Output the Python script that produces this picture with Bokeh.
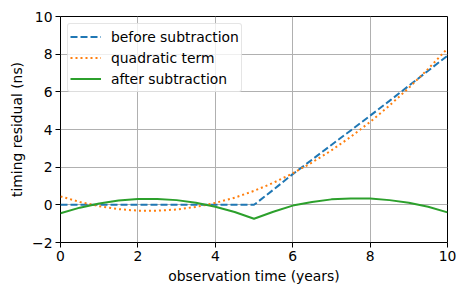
from bokeh.plotting import figure
from bokeh.models import FixedTicker, Range1d, Legend, LegendItem
from bokeh.embed import file_html
from bokeh.resources import INLINE

t = [0, 0.5, 1, 1.5, 2, 2.5, 3, 3.5, 4, 4.5, 5, 5.5, 6, 6.5, 7, 7.5, 8, 8.5, 9, 9.5, 10]
before = [0, 0, 0, 0, 0, 0, 0, 0, 0, 0, 0, 0.8, 1.63, 2.4, 3.18, 3.95, 4.73, 5.52, 6.32, 7.12, 7.92]
quadratic = [0.45, 0.15, -0.07, -0.23, -0.31, -0.31, -0.25, -0.11, 0.10, 0.38, 0.74, 1.17, 1.67, 2.25, 2.89, 3.61, 4.40, 5.27, 6.21, 7.22, 8.30]
after = [-0.45, -0.15, 0.07, 0.23, 0.31, 0.31, 0.25, 0.11, -0.10, -0.38, -0.74, -0.37, -0.04, 0.15, 0.29, 0.34, 0.33, 0.25, 0.11, -0.10, -0.40]
x_ticks = [0, 2, 4, 6, 8, 10]
y_ticks = [-2, 0, 2, 4, 6, 8, 10]
labels = ["before subtraction", "quadratic term", "after subtraction"]

FONT = "DejaVu Sans"
FS = "13.9px"

p = figure(width=458, height=287, output_backend="svg", toolbar_location=None,
           x_range=Range1d(0, 10), y_range=Range1d(-2, 10),
           min_border_left=60, min_border_right=11, min_border_top=16, min_border_bottom=45)
p.outline_line_color = "black"
p.outline_line_width = 1
p.outline_line_alpha = 1

r1 = p.line(t, before, line_color="#1f77b4", line_width=2, line_dash="7 3")
r2 = p.line(t, quadratic, line_color="#ff7f0e", line_width=2, line_dash="2 3")
r3 = p.line(t, after, line_color="#2ca02c", line_width=2)

for ax, ticks in ((p.xaxis[0], x_ticks), (p.yaxis[0], y_ticks)):
    ax.ticker = FixedTicker(ticks=ticks)
    ax.major_label_text_font = FONT
    ax.major_label_text_font_size = FS
    ax.major_label_text_color = "black"
    ax.axis_label_text_font = FONT
    ax.axis_label_text_font_size = FS
    ax.axis_label_text_font_style = "normal"
    ax.axis_label_text_color = "black"
    ax.axis_line_color = None
    ax.major_tick_line_color = "black"
    ax.major_tick_in = 0
    ax.major_tick_out = 5
    ax.minor_tick_line_color = None
    ax.major_label_standoff = 3
    ax.axis_label_standoff = 4

p.xaxis[0].axis_label = "observation time (years)"
p.yaxis[0].axis_label = "timing residual (ns)"
p.yaxis[0].major_label_overrides = {-2: "\u22122"}

for g in (p.xgrid[0], p.ygrid[0]):
    g.grid_line_color = "#b0b0b0"
    g.grid_line_width = 1
p.xgrid[0].ticker = FixedTicker(ticks=x_ticks)
p.ygrid[0].ticker = FixedTicker(ticks=y_ticks)

legend = Legend(items=[LegendItem(label=labels[0], renderers=[r1]),
                       LegendItem(label=labels[1], renderers=[r2]),
                       LegendItem(label=labels[2], renderers=[r3])],
                location="top_left")
legend.label_text_font = FONT
legend.label_text_font_size = FS
legend.label_text_color = "black"
legend.border_line_color = "#cccccc"
legend.border_line_width = 1
legend.border_radius = 3
legend.background_fill_alpha = 0.8
legend.margin = 7
legend.padding = 2
legend.spacing = 0
legend.glyph_width = 31
legend.glyph_height = 21
legend.label_height = 21
legend.label_standoff = 10
p.add_layout(legend)

open("out.html", "w").write(file_html(p, INLINE))
